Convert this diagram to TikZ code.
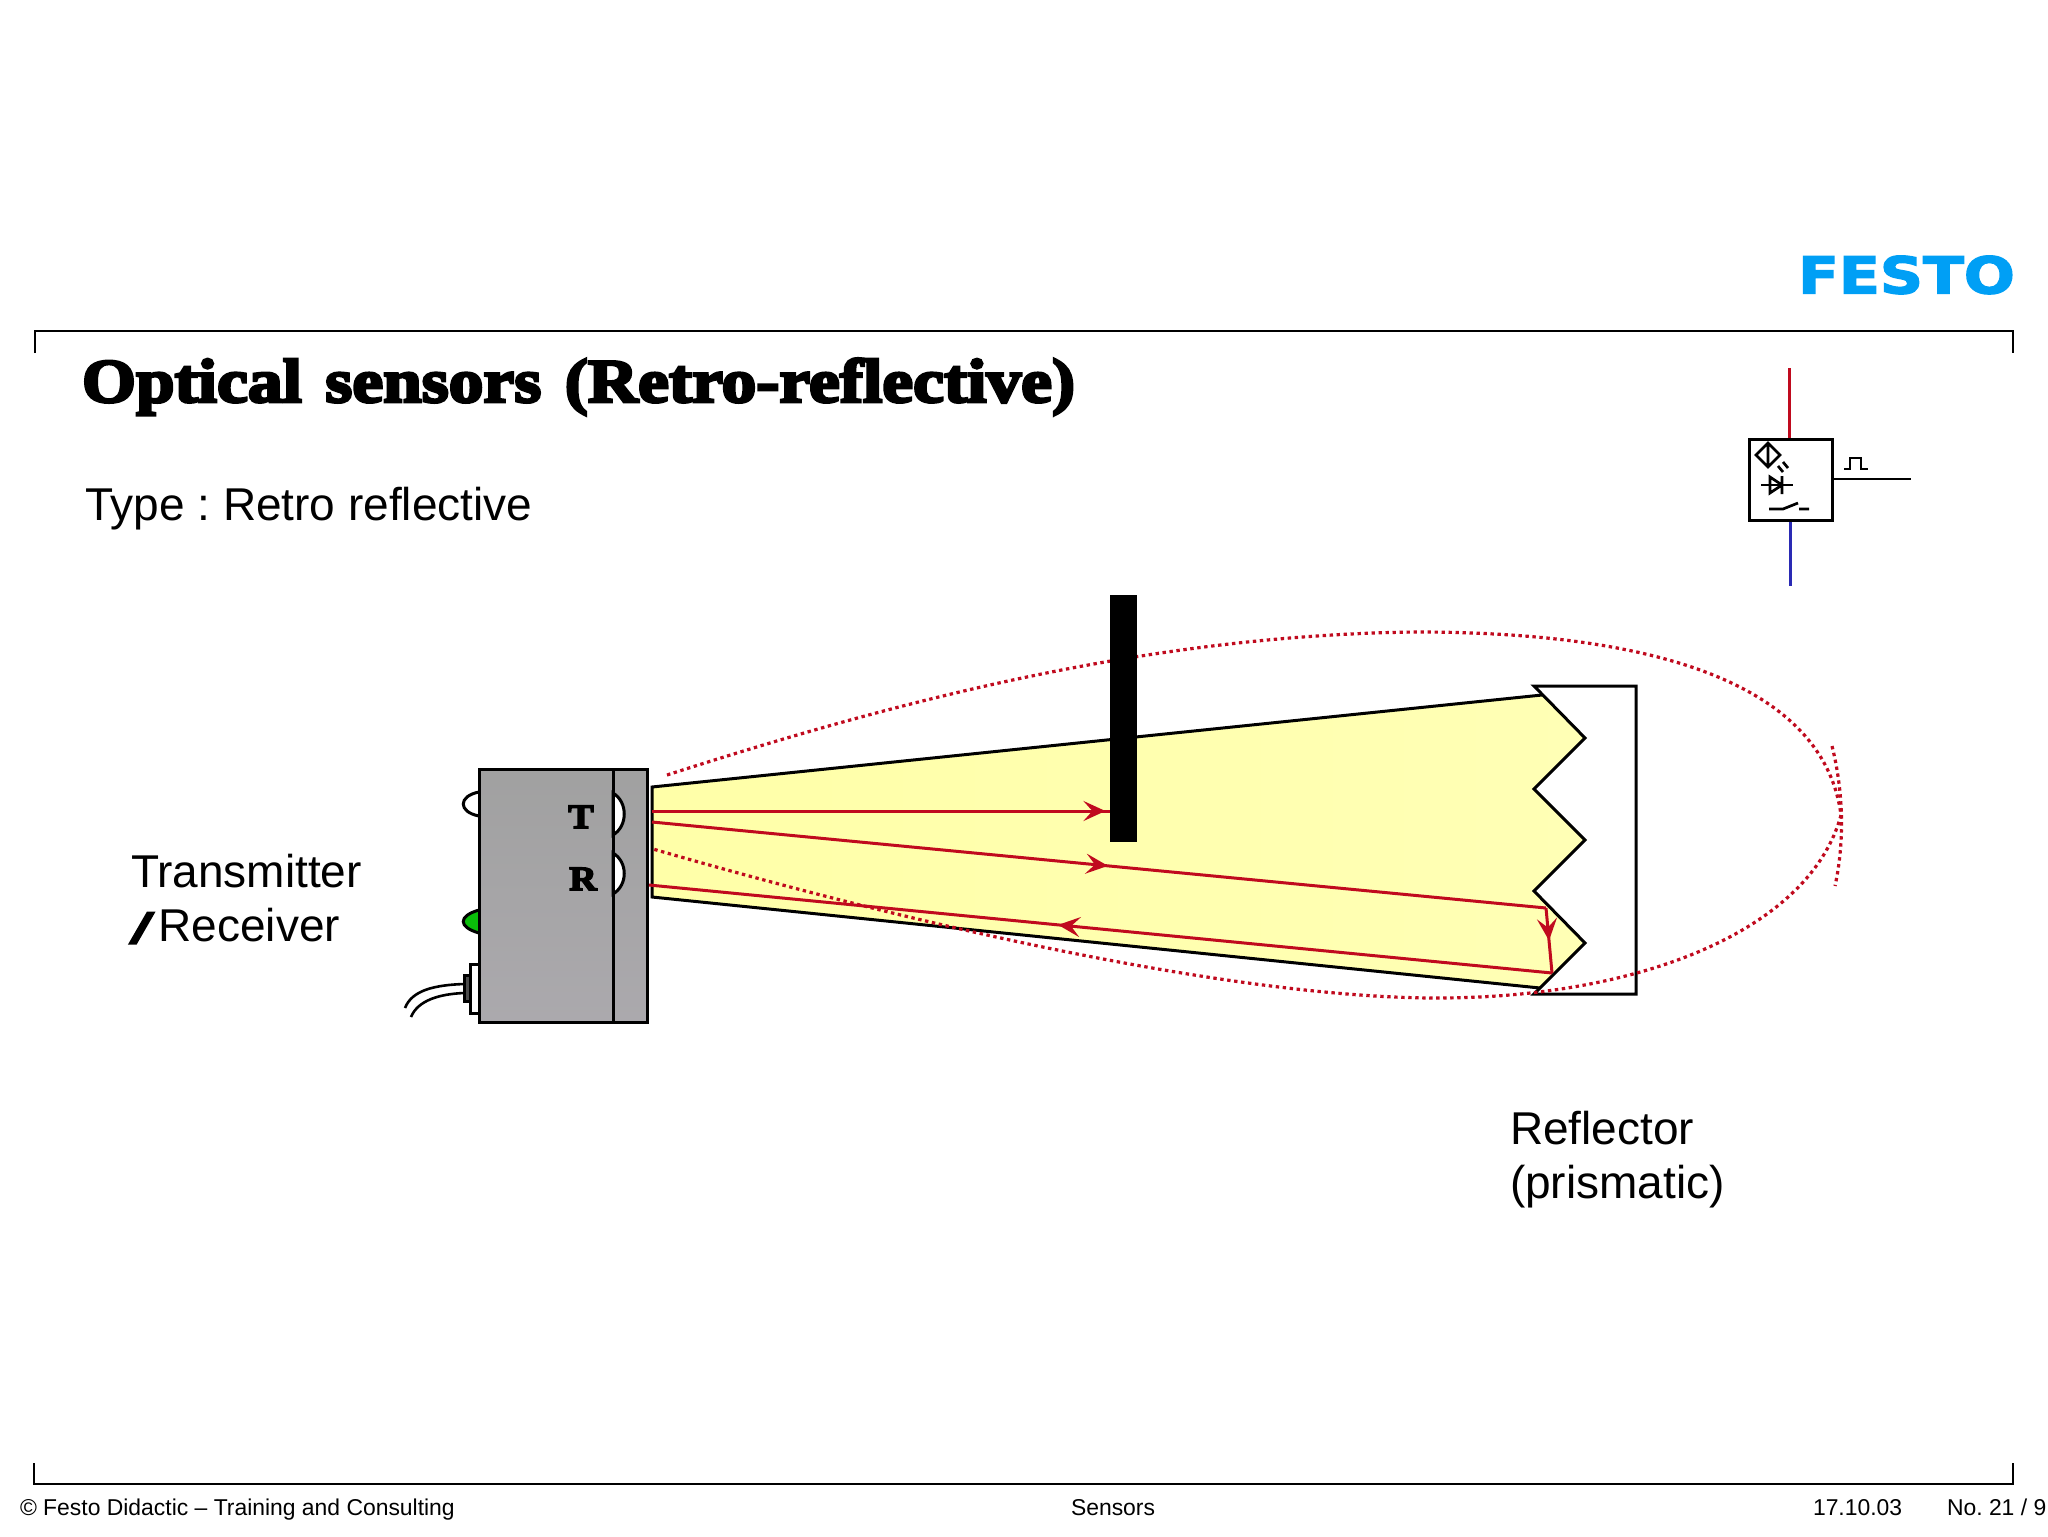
\documentclass[tikz,border=0pt]{standalone}
\usepackage{fontspec}
\setmainfont{Liberation Sans}
\newfontfamily\fatface[FakeBold=4.5,FakeStretch=1.12,WordSpace=1.35]{Liberation Serif Bold}
\newfontfamily\logofont[FakeBold=2.5]{DejaVu Sans Bold}
\usetikzlibrary{arrows.meta,decorations.markings,shadings}
\definecolor{rayred}{HTML}{C00A1E}
\definecolor{beamyellow}{HTML}{FFFFA8}
\definecolor{festoblue}{HTML}{009FF5}
\definecolor{symblue}{HTML}{2A2AB4}
\tikzset{
  txt/.style={anchor=base west,inner sep=0pt,outer sep=0pt},
  bodytext/.style={txt,font=\fontsize{23}{23}\selectfont\frenchspacing},
  foot/.style={txt,font=\fontsize{11.45}{12}\selectfont\frenchspacing},
  ink/.style={draw=black,line width=1.5pt,line join=miter},
  framing/.style={draw=black,line width=1.25pt,line join=miter},
  symb/.style={draw=black,line width=1.35pt},
  ray/.style={draw=rayred,line width=1.5pt},
  dots/.style={draw=rayred,line width=1.6pt,dash pattern=on 1.7pt off 1.8pt},
  midarrow/.style={postaction={decorate},decoration={markings,mark=at position #1 with {\arrow{Stealth[length=11pt,width=10pt,inset=4.5pt]}}}},
}
\begin{document}
\begin{tikzpicture}[x=0.5pt,y=-0.5pt]
\fill[white] (0,0) rectangle (2048,1536);
\useasboundingbox (0,0) rectangle (2048,1536);
% frame
\draw[framing] (35,353) -- (35,331) -- (2013,331) -- (2013,353);
\draw[framing] (34,1463) -- (34,1484) -- (2013,1484) -- (2013,1463);
% logo
\node[txt,text=festoblue] (logo) at (1798,293.5) {\scalebox{1.175}[1]{\logofont\fontsize{25.5}{26}\selectfont FESTO}};
% texts
\node[txt] (title) at (82,402) {\fatface\fontsize{31}{31}\selectfont Optical sensors (Retro-reflective)};
\node[bodytext] (type) at (85,520) {Type : Retro reflective};
\node[bodytext] (tr1) at (131,887) {Transmitter};
\node[bodytext] (tr2) at (131,941) {\raisebox{-1pt}{\fatface\scalebox{1.5}[1]{/}}\hspace{3pt}Receiver};
\node[bodytext] (ref1) at (1510,1144) {Reflector};
\node[bodytext] (ref2) at (1510,1198) {(prismatic)};
\node[foot] (f1) at (20,1515) {© Festo Didactic – Training and Consulting};
\node[foot] (f2) at (1071,1515) {Sensors};
\node[foot] (f3) at (1813,1515) {17.10.03};
\node[foot] (f4) at (1947,1515) {No. 21 / 9};
% symbol
\draw[rayred,line width=1.5pt] (1789,368) -- (1789,439);
\draw[symblue,line width=1.5pt] (1790.5,520) -- (1790.5,586);
\draw[symb,line width=1.5pt] (1749,439) rectangle (1832,520);
\draw[symb] (1832,479) -- (1911,479);
\draw[symb] (1844,469) -- (1850,469) -- (1850,458) -- (1861,458) -- (1861,469) -- (1868,469);
\draw[symb] (1768,443) -- (1780,455) -- (1768,467) -- (1756,455) -- cycle (1768,443) -- (1768,467);
\draw[symb] (1778,466) -- (1783,472) (1783,462) -- (1788,468);
\draw[symb] (1761,485) -- (1793,485);
\draw[symb] (1770,477) -- (1770,493) -- (1782,485) -- cycle (1782,476) -- (1782,494);
\draw[symb] (1769,509) -- (1783,509) -- (1798,503) (1799,509) -- (1809,509);
% sensor body
\draw[ink,fill=white] (479,792) .. controls (458,796) and (458,812) .. (479,816);
\draw[ink,fill={rgb,255:red,10;green,190;blue,10}] (479,910) .. controls (458,916) and (458,927) .. (479,933);
\draw[ink,fill=white] (470,964) rectangle (479,1013);
\draw[ink,fill=gray!60!black] (464,975) rectangle (470,1001);
\draw[ink,line width=1.3pt] (464,984) .. controls (435,985) and (412,990) .. (405,1008);
\draw[ink,line width=1.3pt] (464,993) .. controls (440,994) and (418,1000) .. (411,1017);
\path[top color=black!37,bottom color={rgb,255:red,171;green,169;blue,173}] (479,769) rectangle (647,1022);
\draw[ink,fill=white] (613,793) .. controls (628,802) and (628,826) .. (613,835) -- cycle;
\draw[ink,fill=white] (613,853) .. controls (628,862) and (628,885) .. (613,894) -- cycle;
\draw[ink] (479,769) rectangle (647,1022);
\draw[ink] (613,769) -- (613,1022);
\node[txt,anchor=base] (T) at (581,828) {\fatface\fontsize{17}{17}\selectfont T};
\node[txt,anchor=base] (R) at (583,890) {\fatface\fontsize{17}{17}\selectfont R};
% beam
\path[left color=beamyellow,right color=beamyellow!85!white] (652,787) -- (1542,695) -- (1586,738) -- (1534,789) -- (1586,840) -- (1534,891) -- (1586,943) -- (1540,988) -- (652,897) -- cycle;
\draw[ink] (1540,988) -- (652,897) -- (652,787) -- (1542,695);
% reflector
\draw[ink] (1534,686) -- (1636,686) -- (1636,994) -- (1534,994) -- (1585,943) -- (1534,891) -- (1585,840) -- (1534,789) -- (1585,738) -- cycle;
% rays
\coordinate (s1) at (652,811);
\coordinate (b1) at (1110,811);
\coordinate (s2) at (652,822);
\coordinate (c1) at (1546,908);
\coordinate (c2) at (1552,973);
\coordinate (e3) at (649,885);
\draw[ray,midarrow=0.99] (s1) -- (b1);
\draw[ray,midarrow=0.51] (s2) -- (c1);
\draw[ray,midarrow=0.5] (c1) -- (c2);
\draw[ray,midarrow=0.547] (c2) -- (e3);
% lobe
\draw[dots] (667,775) .. controls (900,700) and (1150,635) .. (1417,632)
  .. controls (1680,632) and (1825,695) .. (1841,815)
  .. controls (1810,930) and (1640,998) .. (1437,998)
  .. controls (1250,998) and (950,935) .. (653,849);
\draw[dots] (1832,746) .. controls (1843,790) and (1845,840) .. (1835,886);
% obstacle
\fill[black] (1110,595) rectangle (1137,842);
\end{tikzpicture}
\end{document}
